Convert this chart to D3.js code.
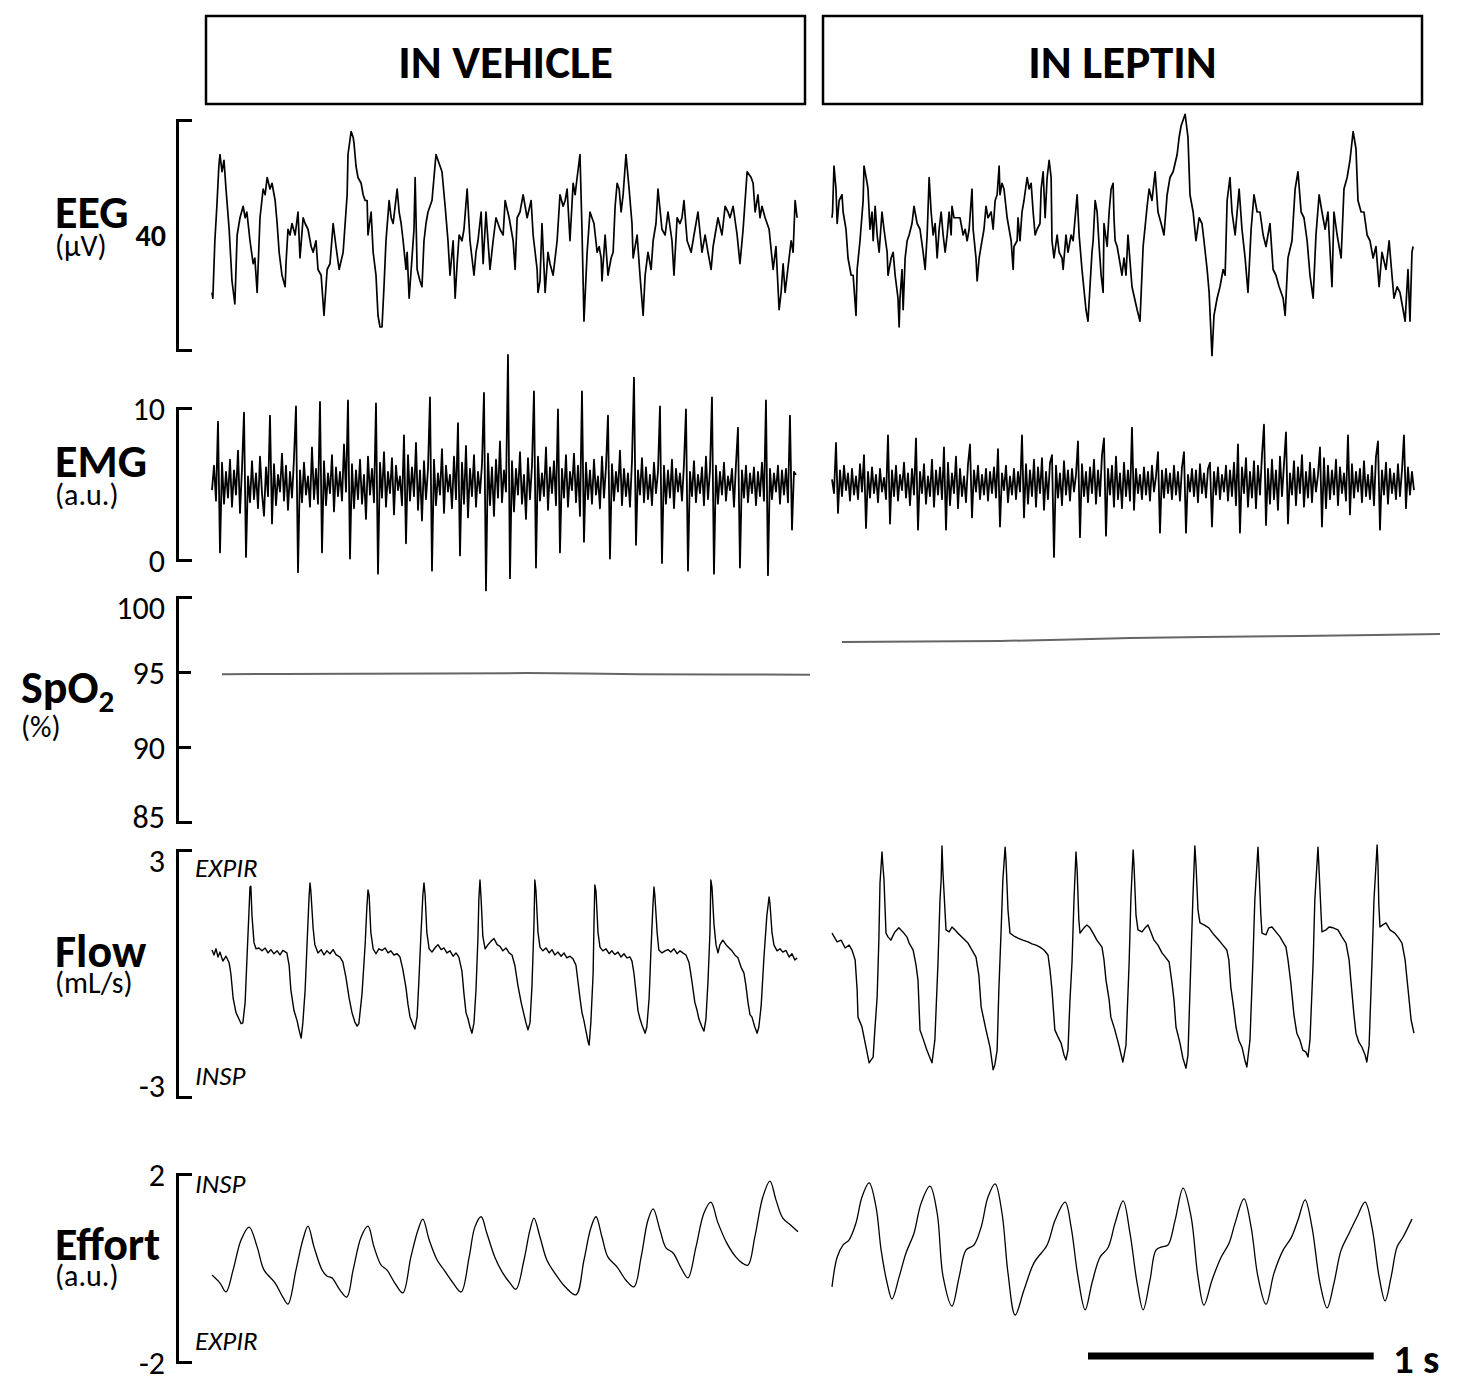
<!DOCTYPE html>
<html lang="en">
<head>
  <meta charset="UTF-8">
  <title>Vehicle vs leptin recordings</title>
  <script src="https://d3js.org/d3.v7.min.js"></script>
  <style>
    html, body { margin: 0; padding: 0; background: #fff; }
    svg { display: block; font-family: Carlito, Lato, "Open Sans", sans-serif; }
    .trace { fill: none; stroke: #000; stroke-linejoin: round; }
    .spo2 { fill: none; stroke: #666; stroke-width: 2; }
  </style>
</head>
<body>
<svg id="chart" width="1461" height="1384"></svg>
<script>
// ---- data (time in ms from trace start, values in channel units) ----
const conditions = ["IN VEHICLE", "IN LEPTIN"];
const channelNames = ["EEG", "EMG", "SpO", "Flow", "Effort"];
const channelUnits = ["(µV)", "(a.u.)", "(%)", "(mL/s)", "(a.u.)"];
const eegSpan = 40;
const emgTicks = [0, 10];
const spo2Ticks = [85, 90, 95, 100];
const flowTicks = [-3, 3];
const effortTicks = [-2, 2];
const flowMarks = ["EXPIR", "INSP"];
const effortMarks = ["INSP", "EXPIR"];
const scaleBarMs = 1000;
const emgStepMs = 7;

const eegVehicle = [[0,-10],[3,-11],[10,-1],[17,5],[24,12],[28,14],[35,11],[42,13],[49,8],[60,1],[70,-8],[80,-12],[88,0],[98,3],[109,5],[116,3],[122,4],[133,-1],[144,-5],[150,-4],[158,-10],[168,3],[179,8],[186,7],[193,10],[203,8],[210,9],[221,6],[228,2],[235,-3],[245,-7],[256,-9],[259,-5],[266,1],[273,0],[280,2],[291,0],[301,4],[308,-4],[319,3],[326,2],[336,1],[347,-2],[354,-3],[364,-1],[371,-6],[382,-7],[392,-14],[403,-6],[413,-5],[424,2],[434,-2],[445,-6],[459,-3],[466,2],[473,7],[476,14],[487,18],[494,17],[497,16],[504,12],[511,10],[522,9],[529,7],[536,6],[543,6],[546,0],[557,4],[564,-3],[574,-7],[581,-14],[588,-16],[595,-16],[602,-9],[609,-1],[620,6],[627,3],[634,2],[648,8],[655,4],[662,2],[669,-1],[679,-6],[683,-3],[690,-11],[700,-4],[707,1],[711,10],[718,-6],[728,-8],[735,-9],[742,-1],[749,2],[756,4],[770,6],[777,10],[784,14],[791,13],[798,12],[805,11],[816,5],[826,-1],[833,-7],[844,-1],[851,-11],[858,-5],[865,0],[875,-1],[882,1],[893,8],[903,-1],[910,-4],[917,-7],[924,-3],[931,-1],[942,4],[949,-5],[959,4],[966,-1],[973,-6],[984,-1],[994,3],[1001,2],[1008,1],[1019,0],[1026,6],[1040,3],[1054,-1],[1061,-6],[1068,3],[1078,4],[1089,7],[1103,3],[1117,6],[1124,0],[1138,-6],[1141,-10],[1148,-8],[1155,2],[1166,-10],[1176,-3],[1183,-5],[1194,-7],[1208,-1],[1218,7],[1229,5],[1236,6],[1243,8],[1253,-1],[1264,9],[1271,7],[1278,10],[1288,14],[1295,1],[1302,-15],[1313,-3],[1323,4],[1330,3],[1337,2],[1348,-3],[1355,-2],[1362,-4],[1365,-8],[1376,0],[1386,-7],[1397,-4],[1404,-3],[1411,5],[1418,9],[1425,8],[1432,4],[1439,7],[1449,14],[1460,8],[1470,2],[1474,-4],[1488,0],[1498,-7],[1509,-14],[1516,-7],[1526,-3],[1537,-6],[1544,-1],[1554,2],[1561,8],[1575,1],[1586,0],[1596,4],[1610,-1],[1617,-7],[1628,3],[1638,2],[1645,3],[1652,6],[1663,-1],[1677,-3],[1687,0],[1701,4],[1715,-3],[1726,0],[1736,-3],[1747,-6],[1754,-2],[1771,3],[1785,0],[1796,5],[1806,4],[1813,3],[1824,5],[1838,0],[1848,-5],[1859,1],[1873,11],[1887,10],[1894,9],[1901,4],[1911,7],[1918,3],[1925,5],[1936,3],[1950,1],[1964,-6],[1974,-2],[1985,-13],[1992,-10],[1999,-5],[2006,-10],[2013,-7],[2027,-1],[2034,-3],[2041,6],[2048,3]];

const eegLeptin = [[0,3],[2,4],[7,12],[14,8],[18,2],[25,6],[35,7],[39,4],[49,1],[56,-4],[67,-7],[74,-7],[84,-14],[88,-6],[98,-1],[109,6],[112,12],[123,9],[126,8],[133,1],[140,4],[144,-1],[151,5],[158,0],[165,-3],[175,4],[182,1],[193,-3],[196,-7],[207,-4],[214,-3],[221,-7],[231,-11],[235,-16],[238,-11],[245,-6],[249,-13],[256,-4],[263,-1],[270,0],[280,2],[287,5],[298,2],[308,1],[319,-3],[326,-6],[333,0],[340,10],[347,4],[354,0],[361,2],[368,-4],[375,1],[382,4],[389,0],[396,-3],[403,0],[410,4],[417,0],[420,5],[427,3],[438,3],[448,3],[459,0],[466,1],[473,-1],[480,1],[490,8],[494,1],[504,-4],[508,-8],[515,-4],[525,-1],[532,1],[539,5],[546,3],[557,4],[564,1],[571,6],[578,7],[585,12],[588,7],[595,9],[602,8],[613,3],[620,1],[627,-1],[634,-6],[637,-2],[648,-1],[651,3],[658,-1],[665,4],[672,6],[683,10],[690,8],[697,9],[704,4],[711,0],[718,1],[728,2],[732,8],[739,11],[746,3],[753,10],[760,13],[767,10],[770,-1],[777,-4],[788,0],[795,-3],[805,-4],[809,-6],[819,0],[826,-3],[837,0],[844,-1],[858,7],[865,0],[875,-6],[879,-8],[889,-13],[896,-15],[903,-9],[910,-3],[914,-1],[921,6],[928,4],[935,-2],[942,-7],[949,-10],[952,2],[963,-2],[970,4],[977,8],[984,9],[987,3],[991,-1],[998,-2],[1005,-4],[1015,-7],[1022,-4],[1029,-7],[1036,0],[1050,-9],[1068,-13],[1078,-15],[1089,-2],[1103,5],[1110,8],[1120,6],[1131,11],[1141,4],[1152,2],[1162,0],[1173,7],[1183,10],[1194,11],[1208,14],[1215,17],[1222,19],[1236,21],[1246,17],[1253,7],[1264,4],[1274,-1],[1285,3],[1295,2],[1302,-1],[1313,-6],[1320,-10],[1330,-21],[1337,-14],[1348,-11],[1358,-9],[1369,-6],[1376,-7],[1383,6],[1393,10],[1400,4],[1411,0],[1425,8],[1435,1],[1446,-4],[1456,-10],[1467,1],[1477,7],[1488,4],[1498,4],[1509,0],[1519,-2],[1533,2],[1544,-6],[1554,-7],[1565,-9],[1579,-11],[1586,-14],[1596,-4],[1610,-1],[1621,8],[1631,11],[1642,4],[1652,3],[1663,-1],[1673,-7],[1684,-11],[1694,0],[1705,7],[1715,4],[1726,1],[1736,4],[1750,-9],[1757,4],[1768,0],[1782,-4],[1792,8],[1803,10],[1813,13],[1824,18],[1834,15],[1841,6],[1852,4],[1862,4],[1873,0],[1883,-1],[1894,-4],[1904,-2],[1915,-9],[1925,-3],[1939,-6],[1950,-1],[1960,-7],[1967,-11],[1978,-9],[1988,-10],[1999,-13],[2006,-15],[2016,-6],[2023,-15],[2030,-3],[2034,-2]];

// EMG sampled every emgStepMs
const emgVehicle = [
  4.6,6.2,3.9,9.1,0.5,6.4,3.7,5.8,4.1,6.6, 3.5,5.9,4.3,7.2,3.1,6.0,9.7,0.2,5.5,3.8,
  6.5,4.0,5.7,3.4,6.8,4.4,2.9,6.1,4.2,9.5, 2.4,6.3,3.6,5.6,4.5,7.0,3.9,6.2,3.3,5.8,
  4.1,6.7,10.1,-0.8,5.9,3.8,6.4,4.3,5.5,3.5, 7.4,4.0,6.0,3.7,10.4,0.5,6.5,3.6,5.7,4.4,
  6.9,3.2,6.1,4.2,5.8,3.9,7.6,4.5,10.5,0.1, 6.3,3.4,5.9,4.0,6.6,3.7,5.6,2.7,6.8,4.3,
  6.0,3.8,10.3,-0.9,6.4,4.1,7.1,3.5,5.8,4.4, 6.7,3.0,6.2,4.6,5.5,3.6,8.2,1.1,6.9,3.9,
  6.1,4.2,7.7,3.3,5.9,2.6,6.5,4.0,6.0,10.7, -0.7,6.6,3.6,5.7,4.3,7.3,3.1,6.2,4.5,5.6,
  3.4,6.8,4.0,9.0,0.3,6.4,3.7,7.5,2.8,6.0, 4.2,6.9,3.5,5.8,4.4,6.3,11.0,-2.0,7.0,3.6,
  6.1,2.9,6.6,4.1,7.8,3.8,5.9,4.5,13.5,-1.2, 6.5,3.2,6.0,4.3,7.1,3.7,5.6,2.7,6.7,4.0,
  6.2,11.1,-0.5,6.8,3.9,5.7,4.2,7.4,3.3,6.1, 4.4,6.5,3.6,9.9,0.5,6.0,4.1,6.9,3.5,5.8,
  4.6,7.0,3.8,6.2,2.9,11.1,1.2,6.4,4.0,5.9, 3.7,6.6,4.3,5.5,3.4,6.8,4.1,6.1,9.5,0.1,
  6.3,3.9,5.8,4.5,7.2,3.6,6.0,4.2,5.7,3.5, 6.5,12.0,1.0,5.9,4.3,6.7,3.8,6.1,4.0,5.6,
  3.6,6.4,4.4,5.8,10.1,-0.2,6.2,3.7,5.9,4.1, 6.6,3.4,6.0,4.5,5.7,3.9,6.3,9.9,-0.7,5.8,
  4.2,6.5,3.8,5.6,4.4,6.1,3.6,6.8,4.0,5.9, 10.7,-0.9,6.2,3.7,5.8,4.3,6.4,3.9,5.5,4.6,
  6.0,3.5,6.3,8.7,-0.5,5.9,4.1,6.2,3.8,5.7, 4.4,6.1,3.6,5.8,4.2,6.4,3.9,10.5,-1.0,6.0,
  4.0,5.7,4.5,6.2,3.7,5.9,4.3,6.0,3.8,9.5, 2.0,5.8,5.6
];
const emgLeptin = [
  5.3,4.4,7.7,3.1,5.9,4.2,6.2,4.6,5.7,3.9, 6.0,4.3,5.5,4.0,6.3,4.5,6.9,2.1,5.8,4.1,
  6.1,4.4,5.6,3.8,6.0,4.5,5.4,4.0,8.2,2.4, 5.9,4.2,6.2,3.9,5.6,4.6,6.4,4.1,5.7,3.6,
  6.0,4.3,8.0,2.0,5.8,4.4,6.3,3.7,5.5,4.2, 6.6,3.5,5.9,4.3,6.1,4.0,7.4,2.0,6.4,3.6,
  5.7,4.4,6.8,3.4,6.0,4.2,5.5,3.8,6.3,7.6, 2.8,5.9,4.5,6.2,4.0,5.6,4.3,6.0,3.9,5.8,
  4.4,6.1,4.1,7.3,2.2,5.7,4.6,6.2,3.8,5.5, 4.3,6.0,4.0,5.8,4.5,8.2,2.8,6.3,3.7,5.9,
  4.2,6.6,3.5,6.1,4.4,6.7,3.3,5.8,4.0,6.4, 6.9,0.2,6.2,4.1,5.7,3.6,6.5,4.3,5.9,3.9,
  6.0,4.5,5.6,7.8,1.5,6.3,4.2,5.8,3.8,6.1, 4.4,6.6,3.7,5.9,4.2,6.9,8.0,1.6,6.0,4.3,
  6.2,3.5,6.8,4.0,5.7,3.4,6.4,4.2,5.9,3.9, 8.7,3.3,6.0,4.4,5.6,4.0,6.1,4.3,5.8,3.9,
  6.2,4.5,5.5,7.1,1.8,5.9,4.1,6.0,4.4,5.7, 4.0,6.2,4.3,5.8,3.9,6.1,7.1,1.8,5.6,4.5,
  6.0,4.2,5.9,3.8,6.3,4.4,5.7,4.1,6.0,6.4, 2.2,5.8,4.3,6.1,4.0,5.6,4.5,6.2,3.9,5.9,
  4.2,6.4,3.6,7.6,1.8,6.1,4.4,6.7,3.5,5.8, 4.1,6.5,3.4,6.2,4.3,6.9,8.9,2.3,6.0,3.7,
  6.6,4.0,5.9,3.3,6.8,4.2,6.3,8.4,2.4,5.7, 4.3,6.5,3.6,6.1,4.4,6.9,3.5,5.8,4.1,6.4,
  3.8,6.0,4.5,5.6,7.4,2.2,6.7,3.4,6.2,4.0, 5.9,4.3,6.6,3.6,6.1,4.4,5.7,3.9,8.2,3.0,
  6.3,4.1,5.8,4.5,6.0,3.8,6.5,4.2,5.6,4.0, 6.2,3.6,6.8,7.8,2.0,5.9,4.3,6.4,3.7,6.0,
  4.4,5.7,4.0,6.3,4.2,5.9,8.2,3.4,6.1,4.3, 5.8,4.6
];

const spo2Vehicle = [[35,94.85],[250,94.87],[500,94.88],[800,94.9],[1100,94.93],[1300,94.9],[1500,94.85],[1800,94.84],[2093,94.82]];
const spo2Leptin = [[35,97.0],[300,97.03],[588,97.07],[800,97.15],[1043,97.27],[1300,97.33],[1638,97.4],[1900,97.47],[2128,97.53]];

const flowVehicle = [[0,0.57],[7,0.45],[14,0.6],[21,0.4],[28,0.52],[38,0.3],[49,0.42],[60,0.26],[66,0],[74,-0.6],[84,-0.95],[94,-1.1],[102,-1.22],[108,-1.2],[116,-0.7],[122,0.3],[130,1.6],[133,2.1],[136,2.12],[140,1.4],[147,0.75],[154,0.6],[164,0.62],[175,0.55],[186,0.62],[196,0.5],[206,0.58],[217,0.48],[228,0.55],[238,0.45],[248,0.56],[262,0.5],[270,0.2],[276,-0.4],[287,-0.9],[298,-1.15],[304,-1.35],[312,-1.57],[318,-1.2],[326,-0.4],[332,0.6],[340,1.9],[343,2.2],[346,2.0],[354,1.1],[360,0.7],[371,0.5],[382,0.58],[392,0.45],[402,0.55],[413,0.48],[424,0.58],[434,0.46],[448,0.4],[458,0.28],[469,-0.1],[480,-0.6],[490,-0.95],[500,-1.18],[508,-1.28],[514,-1.22],[525,-0.5],[536,0.7],[542,1.6],[546,2.03],[550,1.9],[556,1.0],[564,0.6],[574,0.48],[584,0.6],[595,0.56],[606,0.62],[616,0.5],[626,0.55],[637,0.45],[648,0.48],[658,0.4],[668,0.1],[679,-0.35],[686,-0.75],[693,-1.05],[704,-1.25],[710,-1.35],[718,-1.05],[724,-0.2],[731,0.9],[738,1.9],[742,2.2],[746,1.9],[752,1.0],[760,0.6],[770,0.52],[780,0.62],[791,0.7],[802,0.58],[812,0.62],[822,0.5],[833,0.55],[844,0.42],[854,0.5],[864,0.4],[875,0.05],[882,-0.5],[889,-0.95],[896,-1.1],[903,-1.3],[910,-1.45],[917,-1.2],[924,-0.4],[931,0.9],[934,1.8],[938,2.27],[942,1.8],[948,0.9],[956,0.6],[966,0.7],[976,0.78],[987,0.85],[998,0.7],[1008,0.66],[1018,0.55],[1029,0.62],[1040,0.5],[1050,0.45],[1060,0.2],[1071,-0.3],[1082,-0.7],[1092,-1.0],[1099,-1.2],[1106,-1.37],[1113,-1.2],[1120,-0.3],[1127,1.2],[1130,2.27],[1134,2.0],[1141,1.0],[1148,0.64],[1158,0.55],[1169,0.62],[1180,0.5],[1190,0.58],[1200,0.45],[1211,0.52],[1222,0.42],[1232,0.5],[1242,0.38],[1253,0.42],[1264,0.35],[1274,0.2],[1281,-0.2],[1288,-0.6],[1295,-0.95],[1302,-1.15],[1309,-1.4],[1316,-1.65],[1320,-1.74],[1326,-1.2],[1334,0],[1337,1.2],[1340,2.15],[1344,2.0],[1351,1.0],[1358,0.64],[1368,0.55],[1379,0.6],[1390,0.48],[1400,0.55],[1410,0.46],[1421,0.52],[1432,0.4],[1442,0.48],[1452,0.38],[1463,0.4],[1470,0.3],[1477,0],[1484,-0.45],[1491,-0.9],[1498,-1.1],[1505,-1.25],[1516,-1.45],[1522,-1.3],[1530,-0.6],[1536,0.5],[1543,1.6],[1547,2.1],[1550,1.9],[1558,1.0],[1564,0.57],[1575,0.5],[1586,0.55],[1596,0.58],[1606,0.52],[1617,0.6],[1628,0.48],[1638,0.55],[1648,0.5],[1659,0.45],[1670,0.26],[1680,-0.2],[1690,-0.7],[1698,-0.9],[1704,-1.1],[1715,-1.3],[1722,-1.4],[1729,-1.1],[1736,-0.2],[1743,1.0],[1746,2.27],[1750,2.1],[1757,1.2],[1764,0.7],[1771,0.5],[1778,0.7],[1788,0.81],[1799,0.7],[1810,0.62],[1820,0.55],[1830,0.45],[1841,0.38],[1852,0.15],[1862,0.01],[1869,-0.3],[1876,-0.7],[1883,-1.0],[1890,-1.06],[1900,-1.3],[1908,-1.45],[1914,-1.3],[1922,-0.8],[1932,0.4],[1942,1.4],[1950,1.86],[1953,1.7],[1960,1.0],[1967,0.69],[1978,0.55],[1988,0.6],[1998,0.52],[2009,0.56],[2020,0.4],[2030,0.48],[2040,0.33],[2048,0.38]];

const flowLeptin = [[0,0.98],[18,0.77],[32,0.81],[46,0.62],[60,0.69],[70,0.57],[81,0.33],[88,-0.4],[91,-1.06],[105,-1.3],[119,-1.79],[130,-2.17],[137,-2.1],[144,-2.03],[150,-1.37],[158,-0.57],[164,0.81],[168,2.2],[175,2.95],[178,2.64],[182,2.27],[189,0.98],[196,0.89],[206,0.81],[220,1.01],[234,1.11],[248,1.01],[262,0.89],[270,0.74],[284,0.57],[294,0.21],[301,-0.16],[308,-1.37],[318,-1.57],[332,-1.86],[343,-2.05],[350,-2.17],[360,-1.62],[371,0.26],[378,1.79],[382,2.27],[385,3.1],[388,2.51],[399,1.06],[410,1.01],[420,1.13],[430,1.06],[441,0.98],[458,0.86],[476,0.74],[490,0.57],[504,0.4],[514,-0.04],[522,-0.81],[539,-1.37],[553,-1.79],[564,-2.34],[570,-2.22],[578,-1.86],[584,-0.4],[592,1.06],[598,2.27],[606,3.07],[609,2.76],[616,1.54],[623,0.98],[637,0.91],[651,0.86],[668,0.81],[686,0.77],[700,0.72],[714,0.69],[728,0.64],[742,0.57],[756,0.45],[763,0.09],[770,-0.4],[780,-1.37],[791,-1.54],[802,-1.69],[812,-1.98],[819,-2.1],[826,-1.86],[833,-0.64],[840,0.26],[847,1.79],[854,2.95],[858,2.51],[864,1.3],[868,0.98],[882,1.11],[892,1.18],[903,1.11],[914,0.98],[927,0.81],[945,0.64],[952,0.33],[959,-0.16],[970,-0.64],[976,-1.06],[990,-1.37],[1004,-1.74],[1018,-2.15],[1029,-1.74],[1040,0.26],[1046,1.79],[1054,3.0],[1057,2.64],[1064,1.42],[1071,1.06],[1085,1.01],[1096,1.11],[1106,1.18],[1116,1.01],[1127,0.81],[1141,0.69],[1155,0.5],[1169,0.38],[1180,0.28],[1190,-0.23],[1197,-0.64],[1204,-1.3],[1218,-1.69],[1228,-2.05],[1239,-2.3],[1246,-1.98],[1256,0.26],[1263,1.79],[1270,3.1],[1274,2.64],[1281,1.54],[1288,1.23],[1302,1.18],[1319,1.11],[1337,0.94],[1354,0.81],[1368,0.69],[1382,0.57],[1389,0.33],[1396,-0.33],[1407,-0.89],[1414,-1.3],[1424,-1.62],[1435,-1.79],[1445,-2.1],[1452,-2.27],[1463,-1.62],[1473,0.26],[1480,1.79],[1491,3.07],[1494,2.64],[1501,1.42],[1505,0.98],[1519,0.94],[1529,1.11],[1540,1.13],[1554,1.01],[1568,0.89],[1578,0.77],[1589,0.64],[1596,0.33],[1606,-0.23],[1617,-1.01],[1627,-1.45],[1638,-1.62],[1648,-1.86],[1659,-1.91],[1666,-2.03],[1673,-1.62],[1684,0.26],[1690,1.79],[1701,3.07],[1704,2.64],[1712,1.42],[1715,1.01],[1729,1.06],[1740,1.13],[1754,1.11],[1771,1.06],[1785,0.89],[1799,0.74],[1810,0.33],[1816,-0.16],[1827,-1.01],[1834,-1.45],[1844,-1.67],[1855,-1.79],[1866,-1.98],[1872,-2.15],[1880,-1.74],[1890,0.26],[1897,1.79],[1908,3.12],[1911,2.64],[1914,1.67],[1918,1.13],[1928,1.18],[1939,1.23],[1953,1.06],[1970,0.98],[1984,0.86],[1995,0.74],[2006,0.33],[2012,-0.09],[2020,-0.64],[2027,-1.13],[2037,-1.45]];

const effortVehicle = [[0,-0.15],[28,-0.32],[49,-0.51],[74,-0.04],[102,0.6],[130,0.87],[158,0.45],[182,-0.04],[221,-0.32],[248,-0.62],[266,-0.77],[294,-0.04],[318,0.6],[336,0.89],[357,0.45],[385,-0.04],[402,-0.17],[420,-0.21],[448,-0.47],[472,-0.62],[494,-0.04],[522,0.66],[546,0.89],[567,0.45],[592,0.06],[612,-0.04],[640,-0.32],[668,-0.53],[696,0.23],[721,0.81],[738,1.04],[760,0.6],[788,0.17],[812,-0.04],[844,-0.32],[872,-0.51],[900,0.23],[920,0.87],[942,1.09],[962,0.74],[990,0.23],[1018,-0.11],[1043,-0.32],[1064,-0.45],[1092,0.17],[1113,0.81],[1127,1.06],[1148,0.66],[1172,0.17],[1200,-0.11],[1236,-0.4],[1274,-0.57],[1302,0.17],[1326,0.85],[1344,1.09],[1365,0.66],[1386,0.23],[1418,0.02],[1449,-0.26],[1477,-0.4],[1502,0.23],[1526,1.02],[1544,1.26],[1568,0.81],[1589,0.43],[1614,0.32],[1642,0],[1666,-0.21],[1694,0.45],[1722,1.17],[1746,1.4],[1771,0.96],[1802,0.53],[1834,0.23],[1855,0.11],[1876,0.06],[1900,0.66],[1928,1.51],[1953,1.85],[1974,1.45],[1998,1.06],[2026,0.91],[2051,0.77]];

const effortLeptin = [[0,-0.4],[18,0.23],[39,0.49],[60,0.6],[84,0.96],[105,1.51],[130,1.81],[154,1.3],[172,0.38],[193,-0.32],[210,-0.66],[235,-0.19],[259,0.32],[287,0.74],[312,1.38],[343,1.74],[368,1.17],[389,-0.19],[420,-0.81],[445,-0.19],[469,0.38],[497,0.49],[522,0.87],[546,1.51],[571,1.79],[595,1.17],[616,-0.11],[641,-1.0],[672,-0.47],[707,0.11],[753,0.49],[781,1.02],[816,1.4],[837,0.87],[861,-0.19],[886,-0.89],[910,-0.32],[938,0.23],[966,0.43],[991,0.96],[1019,1.43],[1043,0.74],[1068,-0.32],[1089,-0.89],[1113,-0.26],[1134,0.38],[1155,0.45],[1176,0.49],[1201,1.02],[1229,1.7],[1257,1.09],[1281,-0.19],[1302,-0.79],[1330,-0.26],[1362,0.23],[1390,0.53],[1411,0.96],[1442,1.47],[1467,0.87],[1491,-0.19],[1519,-0.77],[1547,-0.11],[1579,0.38],[1607,0.64],[1631,1.02],[1656,1.45],[1680,0.87],[1708,-0.32],[1733,-0.85],[1757,-0.32],[1782,0.38],[1810,0.74],[1838,1.09],[1866,1.4],[1890,0.87],[1915,-0.19],[1936,-0.7],[1957,-0.19],[1978,0.45],[1999,0.66],[2030,1.04]];

// ---- layout ----
const svg = d3.select('#chart');
const axisX = 177;
const msToPx = 0.2857;           // 1 s = 285.7 px
const xVeh = d3.scaleLinear().domain([0, 1000]).range([212, 212 + 1000 * msToPx]);
const xLep = d3.scaleLinear().domain([0, 1000]).range([832, 832 + 1000 * msToPx]);

const yEEG = d3.scaleLinear().domain([-eegSpan / 2, eegSpan / 2]).range([350, 120]);
const yEMG = d3.scaleLinear().domain([0, 10]).range([560, 408]);
const ySpO2 = d3.scaleLinear().domain([85, 100]).range([822, 597]);
const yFlow = d3.scaleLinear().domain([-3, 3]).range([1097, 850]);
const yEffort = d3.scaleLinear().domain([-2, 2]).range([1362, 1174]);

// header boxes
const heads = svg.selectAll('g.head').data(conditions).join('g')
  .attr('class', 'head')
  .attr('transform', (d, i) => `translate(${i ? 823 : 206},16)`);
heads.append('rect')
  .attr('width', 599).attr('height', 88)
  .attr('fill', 'none').attr('stroke', '#000').attr('stroke-width', 2.5);
heads.append('text')
  .attr('x', 299.5).attr('y', 62)
  .attr('text-anchor', 'middle')
  .attr('font-size', 47).attr('font-weight', 700)
  .text(d => d);

// left-side channel labels: name and unit stacked in one text block
const labelBase = [228, 477, 703, 967, 1260];
const unitDrop = [28, 28, 34, 26, 26];
channelNames.forEach((name, i) => {
  const isSpO2 = name === 'SpO';
  const lx = isSpO2 ? 21 : 55;
  const t = svg.append('text')
    .attr('x', lx).attr('y', labelBase[i]);
  t.append('tspan')
    .attr('font-size', 46).attr('font-weight', 700)
    .text(name);
  let drop = unitDrop[i];
  if (isSpO2) {
    t.append('tspan').attr('font-size', 31).attr('font-weight', 700)
      .attr('dy', 9).text('2');
    drop -= 9;
  }
  t.append('tspan')
    .attr('x', lx).attr('dy', drop)
    .attr('font-size', 30)
    .text(channelUnits[i]);
});

// bracket-style axes
function bracket(scale, ticks, nudge) {
  const g = svg.append('g')
    .attr('transform', `translate(${axisX},0)`)
    .call(d3.axisLeft(scale)
      .tickValues(ticks)
      .tickSizeInner(-14)
      .tickSizeOuter(-15)
      .tickPadding(12)
      .tickFormat(d => String(d)));
  g.attr('font-family', null).attr('font-size', 32);
  g.select('.domain').attr('stroke-width', 3);
  g.selectAll('.tick line').attr('stroke-width', 3);
  g.selectAll('.tick text').attr('fill', '#000')
    .attr('dy', d => (nudge && nudge[d] ? nudge[d] : 0) + 11);
  return g;
}
bracket(yEEG, []);
svg.append('text')
  .attr('x', axisX - 11).attr('y', yEEG(0) + 11)
  .attr('text-anchor', 'end')
  .attr('font-size', 30).attr('font-weight', 700)
  .text(eegSpan);
bracket(yEMG, emgTicks);
bracket(ySpO2, spo2Ticks, {100: 10, 85: -6});
bracket(yFlow, flowTicks, {3: 10, '-3': -12});
bracket(yEffort, effortTicks);

// INSP / EXPIR marks
const marks = [
  [flowMarks[0], yFlow(3) + 27], [flowMarks[1], yFlow(-3) - 12],
  [effortMarks[0], yEffort(2) + 19], [effortMarks[1], yEffort(-2) - 12]
];
marks.forEach(([txt, y]) => {
  svg.append('text')
    .attr('x', 195).attr('y', y)
    .attr('font-size', 27).attr('font-style', 'italic')
    .text(txt);
});

// ---- traces ----
const panels = [
  {x: xVeh, eeg: eegVehicle, emg: emgVehicle, spo2: spo2Vehicle, flow: flowVehicle, effort: effortVehicle},
  {x: xLep, eeg: eegLeptin, emg: emgLeptin, spo2: spo2Leptin, flow: flowLeptin, effort: effortLeptin}
];

panels.forEach(p => {
  const line = (y, curve) => d3.line()
    .x(d => p.x(d[0])).y(d => y(d[1]))
    .curve(curve || d3.curveLinear);

  svg.append('path').attr('class', 'trace').attr('stroke-width', 1.7)
    .attr('d', line(yEEG)(p.eeg));

  const emgPts = p.emg.map((v, i) => [i * emgStepMs, v]);
  svg.append('path').attr('class', 'trace').attr('stroke-width', 1.8)
    .attr('d', line(yEMG)(emgPts));

  svg.append('path').attr('class', 'spo2')
    .attr('d', line(ySpO2)(p.spo2));

  svg.append('path').attr('class', 'trace').attr('stroke-width', 1.4)
    .attr('d', line(yFlow)(p.flow));

  svg.append('path').attr('class', 'trace').attr('stroke-width', 1.3)
    .attr('d', line(yEffort, d3.curveCatmullRom.alpha(0.5))(p.effort));
});

// scale bar
const barX = 1088;
const barLen = xLep(scaleBarMs) - xLep(0);
svg.append('line')
  .attr('x1', barX).attr('x2', barX + barLen)
  .attr('y1', 1356).attr('y2', 1356)
  .attr('stroke', '#000').attr('stroke-width', 7);
svg.append('text')
  .attr('x', 1393).attr('y', 1373)
  .attr('font-size', 41).attr('font-weight', 700)
  .text(`${scaleBarMs / 1000} s`);
</script>
</body>
</html>
